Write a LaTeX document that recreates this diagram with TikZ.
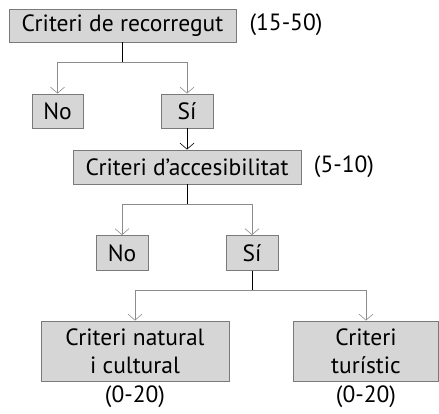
\documentclass[tikz,border=0pt]{standalone}
\usepackage{fontspec}
\setmainfont{PT Sans}
\usetikzlibrary{arrows.meta}
\definecolor{boxfill}{HTML}{D6D6D6}
\definecolor{boxline}{HTML}{7A7A7A}
\definecolor{arrline}{HTML}{8C8C8C}
\tikzset{
  crit/.style={draw=boxline,fill=boxfill,line width=0.9pt,inner sep=0pt,align=center,font=\fontsize{23.5}{28}\selectfont},
  lbl/.style={font=\fontsize{23.5}{28}\selectfont},
  stem/.style={draw=black,line width=0.8pt},
  arr/.style={draw=arrline,line width=0.8pt,-{Straight Barb[length=6pt,width=14pt,line width=0.6pt]}}
}
\begin{document}
\begin{tikzpicture}[x=1pt,y=-1pt]
  \useasboundingbox (0,0) rectangle (439,414);
  \node[crit,minimum width=227,minimum height=33] (rec) at (122.5,25.5){Criteri de recorregut};
  \node[lbl] (recpt) at (286,25){(15-50)};
  \node[crit,minimum width=51,minimum height=34] (no1) at (57.5,111){No};
  \node[crit,minimum width=52,minimum height=34] (si1) at (187,111){Sí};
  \node[crit,minimum width=228,minimum height=34] (acc) at (187,167){Criteri d’accesibilitat};
  \node[lbl] (accpt) at (344,167){(5-10)};
  \node[crit,minimum width=52,minimum height=35] (no2) at (122,253){No};
  \node[crit,minimum width=52,minimum height=35] (si2) at (252,253){Sí};
  \node[crit,minimum width=188,minimum height=60] (nat) at (135,351){Criteri natural\\i cultural};
  \node[crit,minimum width=145,minimum height=60] (tur) at (366,351){Criteri\\turístic};
  \node[lbl] (natpt) at (135,397){(0-20)};
  \node[lbl] (turpt) at (366,397){(0-20)};

  % branch points
  \coordinate (b1) at (122,62);
  \coordinate (b2) at (187,204);
  \coordinate (b3) at (252,290);

  \draw[stem] (b1 |- rec.south) -- (b1);
  \draw[arr] (b1) -| (no1.north);
  \draw[arr] (b1) -| (si1.north);
  \draw[stem,-{Straight Barb[length=6pt,width=14pt,line width=0.6pt]}] (si1.south) -- (acc.north);
  \draw[stem] (acc.south) -- (b2);
  \draw[arr] (b2) -| (no2.north);
  \draw[arr] (b2) -| (si2.north);
  \draw[stem] (si2.south) -- (b3);
  \draw[arr] (b3) -| (nat.north);
  \draw[arr] (b3) -| (tur.north);
\end{tikzpicture}
\end{document}
